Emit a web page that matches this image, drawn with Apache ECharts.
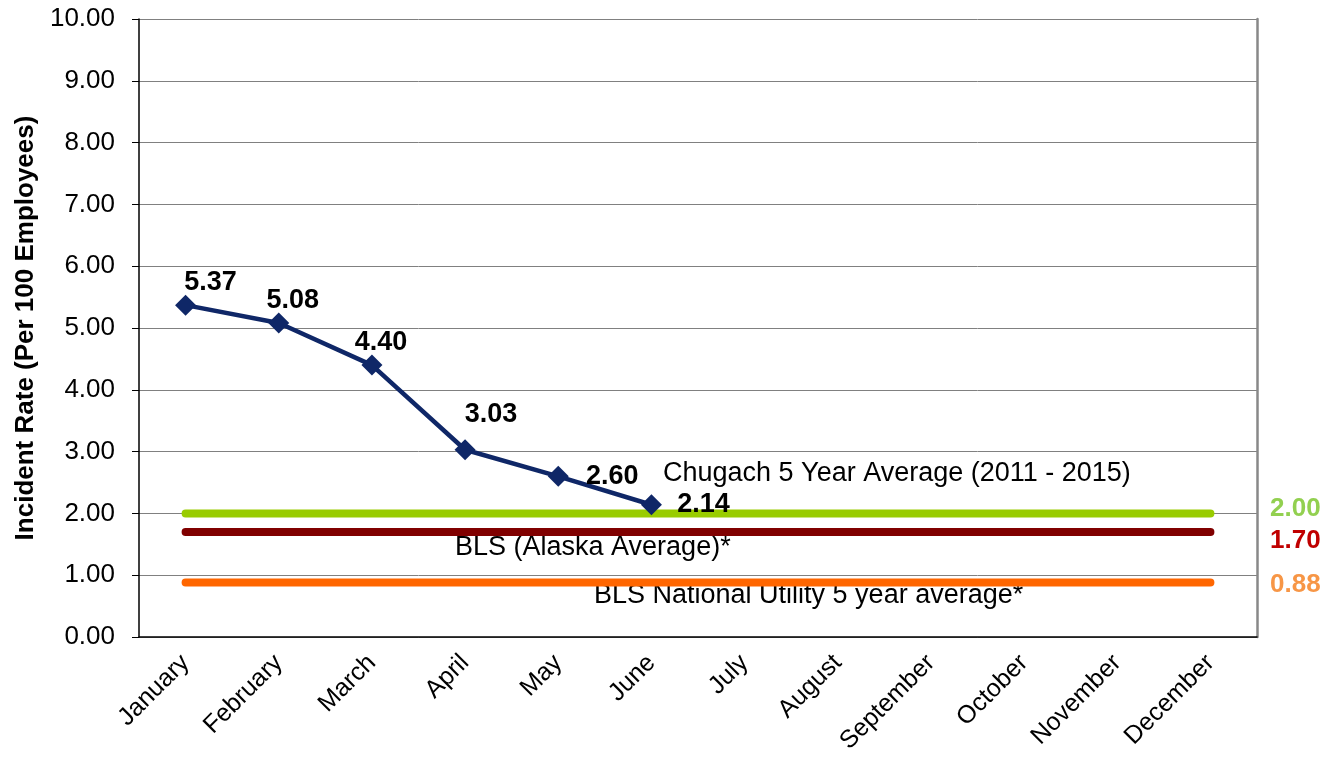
<!DOCTYPE html>
<html>
<head>
<meta charset="utf-8">
<script src="https://cdn.jsdelivr.net/npm/echarts@6/dist/echarts.min.js"></script>
<style>
  html, body { margin: 0; padding: 0; background: #fff; }
  #main { width: 1330px; height: 761px; }
</style>
</head>
<body>
<div id="main"></div>
<script>
// data
var months = ['January', 'February', 'March', 'April', 'May', 'June',
  'July', 'August', 'September', 'October', 'November', 'December'];
var incidentRate = [5.37, 5.08, 4.40, 3.03, 2.60, 2.14];
var chugachAvg = 2.00;
var blsAlaska = 1.70;
var blsNational = 0.88;

// label offsets (style only)
var labelOffsets = [[25, -23], [14, -23], [9, -23], [26, -35], [54, 0], [52, 0]];

function flat(v) {
  return months.map(function () { return v; });
}

var font = 'Liberation Sans, Arial, sans-serif';

var chart = echarts.init(document.getElementById('main'));

chart.setOption({
  animation: false,
  textStyle: { fontFamily: font },
  grid: { left: 139, right: 73, top: 19, bottom: 124 },
  xAxis: {
    type: 'category',
    data: months,
    boundaryGap: true,
    axisLine: { lineStyle: { color: '#000', width: 1.5 } },
    axisTick: { length: 7, lineStyle: { color: '#000' } },
    axisLabel: { rotate: 45, fontSize: 25, color: '#000', margin: 22, interval: 0, fontFamily: font }
  },
  yAxis: [{
    type: 'value',
    min: 0,
    max: 10,
    interval: 1,
    name: 'Incident Rate (Per 100 Employees)',
    nameLocation: 'middle',
    nameGap: 100,
    nameTextStyle: { fontSize: 26, fontWeight: 'bold', color: '#000', fontFamily: font },
    axisLine: { show: true, lineStyle: { color: '#000', width: 1.5 } },
    axisTick: { show: true, length: 7, lineStyle: { color: '#000' } },
    axisLabel: { fontSize: 26, color: '#000', margin: 24, fontFamily: font,
      formatter: function (v) { return v.toFixed(2); } },
    splitLine: { lineStyle: { color: '#808080', width: 1 } }
  }, {
    type: 'value',
    min: 0,
    max: 10,
    interval: 1,
    position: 'right',
    axisLine: { show: true, lineStyle: { color: '#888', width: 2.5 } },
    axisTick: { show: false },
    axisLabel: { show: false },
    splitLine: { show: false }
  }],
  series: [
    {
      name: 'Chugach 5 Year Average',
      type: 'line',
      data: flat(chugachAvg),
      symbol: 'none',
      lineStyle: { color: '#99CC00', width: 8, cap: 'round' },
      z: 2
    },
    {
      name: 'BLS (Alaska Average)',
      type: 'line',
      data: flat(blsAlaska),
      symbol: 'none',
      lineStyle: { color: '#800000', width: 8, cap: 'round' },
      z: 2
    },
    {
      name: 'BLS National Utility',
      type: 'line',
      data: flat(blsNational),
      symbol: 'none',
      lineStyle: { color: '#FF6600', width: 8, cap: 'round' },
      z: 2
    },
    {
      name: 'Incident Rate',
      type: 'line',
      data: incidentRate.map(function (v, i) {
        return { value: v, label: { offset: labelOffsets[i] } };
      }),
      symbol: 'diamond',
      symbolSize: 21,
      itemStyle: { color: '#0F2767' },
      lineStyle: { color: '#0F2767', width: 4.5 },
      label: {
        show: true,
        position: 'inside',
        fontSize: 27,
        fontWeight: 'bold',
        color: '#000',
        fontFamily: font,
        formatter: function (p) { return p.value.toFixed(2); }
      },
      z: 5
    }
  ],
  graphic: [
    { type: 'text', x: 663, y: 474, style: { text: 'Chugach 5 Year Average (2011 - 2015)', font: '27px ' + font, fill: '#000', verticalAlign: 'middle' } },
    { type: 'text', x: 455, y: 548, style: { text: 'BLS (Alaska Average)*', font: '27px ' + font, fill: '#000', verticalAlign: 'middle' } },
    { type: 'text', x: 594, y: 596, style: { text: 'BLS National Utility 5 year average*', font: '27px ' + font, fill: '#000', verticalAlign: 'middle' } },
    { type: 'text', x: 1270, y: 509, style: { text: chugachAvg.toFixed(2), font: 'bold 26px ' + font, fill: '#92D050', verticalAlign: 'middle' } },
    { type: 'text', x: 1270, y: 541, style: { text: blsAlaska.toFixed(2), font: 'bold 26px ' + font, fill: '#C00000', verticalAlign: 'middle' } },
    { type: 'text', x: 1270, y: 585, style: { text: blsNational.toFixed(2), font: 'bold 26px ' + font, fill: '#F79646', verticalAlign: 'middle' } }
  ]
});
</script>
</body>
</html>
